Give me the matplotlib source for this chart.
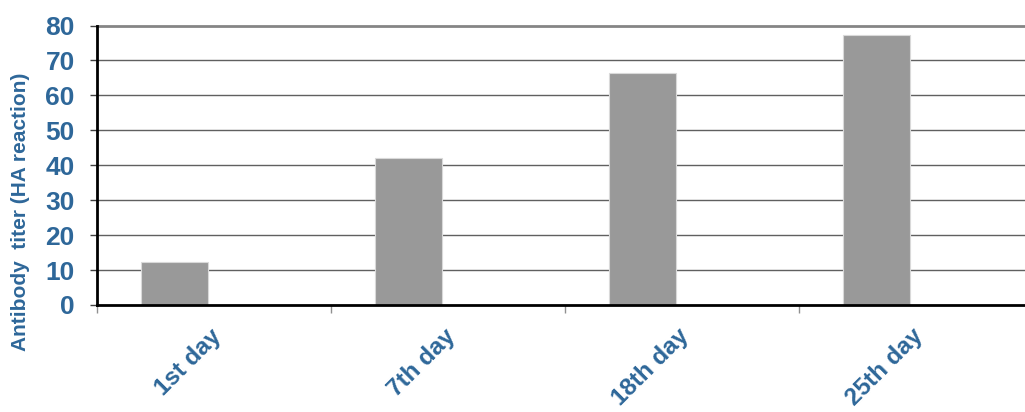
import matplotlib
matplotlib.use("Agg")
import matplotlib.pyplot as plt

categories = ["1st day", "7th day", "18th day", "25th day"]
titer = [12.4, 42.0, 66.5, 77.2]
y_ticks = [0, 10, 20, 30, 40, 50, 60, 70, 80]

TEXT = "#2E6799"
plt.rcParams['font.family'] = ['Liberation Sans', 'DejaVu Sans']

fig = plt.figure(figsize=(10.25, 4.12), dpi=100)
ax = fig.add_axes([97/1025, 1-305/412, 928/1025, 279.5/412])

xs = [i + 0.331 for i in range(len(categories))]
ax.bar(xs, titer, width=0.286, color="#999999", edgecolor="#d9d9d9",
       linewidth=0.8, zorder=3)

ax.set_xlim(0, 928/234)
ax.set_ylim(0, 80)

for v in y_ticks[1:-1]:
    ax.axhline(v, color="#606060", lw=1.0, zorder=1)
ax.axhline(80, color="#858585", lw=2.0, zorder=1, clip_on=False)

ax.set_yticks(y_ticks)
ax.set_yticklabels([str(v) for v in y_ticks], fontsize=19, fontweight='bold', color=TEXT)
ax.tick_params(axis='y', direction='out', length=5, width=1, color="#404040", pad=11)

ax.set_xticks(range(len(categories)))
ax.set_xticklabels([])
ax.tick_params(axis='x', which='major', direction='out', length=6, width=1, color="#909090")
ax.set_xticks([i + 0.55 for i in range(len(categories))], minor=True)
ax.set_xticklabels(categories, minor=True, rotation=45, ha='right', va='top',
                   fontsize=17.5, fontweight='bold', color=TEXT)
ax.tick_params(axis='x', which='minor', length=0, pad=14)

for s in ['top', 'right']:
    ax.spines[s].set_visible(False)
ax.spines['left'].set_color('black')
ax.spines['left'].set_linewidth(2)
ax.spines['bottom'].set_color('black')
ax.spines['bottom'].set_linewidth(2)
ax.spines['left'].set_zorder(4)
ax.spines['bottom'].set_zorder(4)

fig.text(21/1025, 1-212/412, "Antibody  titer (HA reaction)", rotation=90,
         ha='center', va='center', fontsize=15, fontweight='bold', color=TEXT)

fig.savefig("out.png", dpi=100)
